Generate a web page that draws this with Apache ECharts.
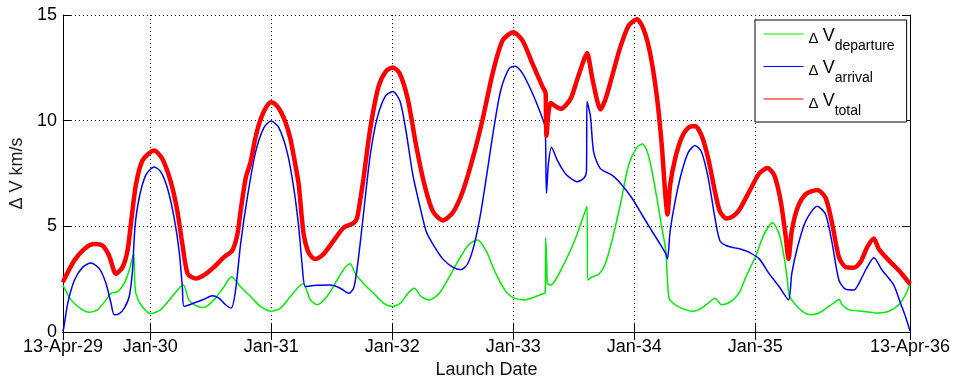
<!DOCTYPE html>
<html>
<head>
<meta charset="utf-8">
<script src="https://cdn.jsdelivr.net/npm/echarts@6/dist/echarts.min.js"></script>
<style>
  html, body { margin: 0; padding: 0; background: #fff; }
  #chart { width: 956px; height: 384px; }
</style>
</head>
<body>
<div id="chart"></div>
<script>
// Launch window: 13 Apr 2029 .. 13 Apr 2036, x expressed in decimal years
const tickYears  = [2029.279, 2030, 2031, 2032, 2033, 2034, 2035, 2036.279];
const tickLabels = ['13-Apr-29', 'Jan-30', 'Jan-31', 'Jan-32', 'Jan-33', 'Jan-34', 'Jan-35', '13-Apr-36'];

// Δv at departure (km/s)
const departureYears = [2029.279, 2029.286, 2029.346, 2029.429, 2029.498, 2029.566, 2029.635, 2029.676, 2029.731, 2029.786, 2029.827, 2029.863, 2029.872, 2029.882, 2029.923, 2030.005, 2030.088, 2030.17, 2030.239, 2030.275, 2030.321, 2030.39, 2030.445, 2030.527, 2030.61, 2030.672, 2030.747, 2030.83, 2030.912, 2031.0, 2031.077, 2031.159, 2031.228, 2031.264, 2031.324, 2031.379, 2031.461, 2031.544, 2031.612, 2031.653, 2031.695, 2031.763, 2031.846, 2031.928, 2032.005, 2032.07, 2032.13, 2032.184, 2032.239, 2032.308, 2032.39, 2032.472, 2032.555, 2032.637, 2032.706, 2032.775, 2032.857, 2032.94, 2033.008, 2033.091, 2033.173, 2033.242, 2033.264, 2033.269, 2033.277, 2033.283, 2033.31, 2033.365, 2033.42, 2033.478, 2033.528, 2033.61, 2033.616, 2033.651, 2033.706, 2033.761, 2033.816, 2033.885, 2033.953, 2034.022, 2034.069, 2034.118, 2034.173, 2034.228, 2034.261, 2034.275, 2034.289, 2034.338, 2034.42, 2034.489, 2034.557, 2034.612, 2034.667, 2034.722, 2034.777, 2034.832, 2034.876, 2034.923, 2035.0, 2035.074, 2035.143, 2035.198, 2035.239, 2035.266, 2035.28, 2035.321, 2035.39, 2035.459, 2035.527, 2035.61, 2035.664, 2035.692, 2035.719, 2035.774, 2035.884, 2036.021, 2036.104, 2036.186, 2036.241, 2036.279];
const departureDv    = [2.20, 2.14, 1.52, 1.09, 0.93, 1.06, 1.52, 1.83, 1.91, 2.30, 2.92, 3.70, 2.40, 1.83, 1.29, 0.87, 1.06, 1.60, 2.07, 2.22, 1.52, 1.21, 1.16, 1.52, 2.14, 2.62, 2.14, 1.68, 1.21, 0.98, 1.13, 1.68, 2.14, 2.30, 1.52, 1.29, 1.68, 2.45, 3.07, 3.23, 2.76, 2.30, 1.83, 1.37, 1.21, 1.37, 1.83, 2.07, 1.68, 1.52, 1.83, 2.61, 3.46, 4.16, 4.35, 3.85, 2.76, 1.91, 1.60, 1.52, 1.65, 1.80, 1.83, 4.47, 3.23, 2.30, 2.22, 2.61, 3.23, 3.93, 4.63, 5.95, 2.45, 2.61, 2.72, 3.23, 4.32, 6.02, 7.89, 8.74, 8.90, 8.35, 6.80, 4.94, 3.85, 2.45, 1.60, 1.29, 1.06, 0.98, 1.13, 1.37, 1.60, 1.29, 1.37, 1.60, 1.95, 2.61, 3.54, 4.63, 5.17, 4.63, 3.54, 2.45, 1.75, 1.37, 0.98, 0.82, 0.90, 1.21, 1.44, 1.55, 1.29, 1.06, 0.98, 0.90, 0.98, 1.29, 1.75, 2.30];

// Δv at arrival (km/s)
const arrivalYears = [2029.279, 2029.286, 2029.319, 2029.374, 2029.443, 2029.511, 2029.58, 2029.635, 2029.676, 2029.703, 2029.745, 2029.786, 2029.827, 2029.854, 2029.874, 2029.909, 2029.964, 2030.033, 2030.088, 2030.143, 2030.198, 2030.239, 2030.266, 2030.28, 2030.362, 2030.445, 2030.513, 2030.568, 2030.623, 2030.67, 2030.706, 2030.747, 2030.802, 2030.871, 2030.94, 2031.0, 2031.063, 2031.132, 2031.187, 2031.228, 2031.255, 2031.283, 2031.351, 2031.489, 2031.571, 2031.64, 2031.681, 2031.708, 2031.741, 2031.777, 2031.818, 2031.873, 2031.942, 2032.005, 2032.065, 2032.116, 2032.171, 2032.226, 2032.28, 2032.336, 2032.418, 2032.5, 2032.569, 2032.624, 2032.679, 2032.734, 2032.789, 2032.843, 2032.898, 2032.967, 2033.016, 2033.077, 2033.146, 2033.214, 2033.264, 2033.27, 2033.275, 2033.29, 2033.316, 2033.365, 2033.42, 2033.459, 2033.528, 2033.583, 2033.605, 2033.61, 2033.638, 2033.665, 2033.72, 2033.816, 2033.898, 2033.981, 2034.063, 2034.146, 2034.214, 2034.261, 2034.275, 2034.297, 2034.338, 2034.393, 2034.448, 2034.503, 2034.557, 2034.612, 2034.667, 2034.708, 2034.763, 2034.832, 2034.876, 2034.951, 2035.033, 2035.115, 2035.198, 2035.275, 2035.302, 2035.349, 2035.417, 2035.513, 2035.582, 2035.637, 2035.692, 2035.747, 2035.815, 2035.884, 2035.925, 2035.98, 2036.049, 2036.145, 2036.2, 2036.241, 2036.279];
const arrivalDv    = [0.05, 0.20, 1.37, 2.45, 3.07, 3.26, 3.00, 2.30, 1.37, 0.82, 0.87, 1.13, 1.68, 2.92, 4.94, 6.34, 7.42, 7.81, 7.58, 6.80, 5.40, 3.85, 2.14, 1.21, 1.37, 1.55, 1.71, 1.60, 1.29, 1.13, 1.99, 4.16, 6.34, 8.51, 9.67, 9.98, 9.67, 8.51, 6.80, 4.94, 3.23, 2.14, 2.20, 2.22, 2.07, 1.83, 2.07, 2.92, 4.47, 6.34, 8.35, 10.06, 11.15, 11.38, 10.92, 9.44, 7.42, 6.02, 4.78, 4.16, 3.46, 3.07, 2.95, 3.23, 4.16, 5.71, 7.73, 9.75, 11.46, 12.47, 12.58, 12.24, 11.46, 10.53, 9.67, 8.00, 6.57, 7.90, 8.74, 8.12, 7.58, 7.34, 7.11, 7.27, 7.58, 10.92, 10.22, 8.51, 7.73, 7.42, 6.96, 6.34, 5.56, 4.78, 4.16, 3.70, 3.46, 4.78, 6.18, 7.58, 8.51, 8.82, 8.51, 7.27, 5.40, 4.32, 4.08, 3.98, 3.93, 3.77, 3.46, 2.76, 2.14, 1.52, 2.76, 4.01, 5.25, 5.95, 5.56, 4.16, 2.45, 2.02, 1.99, 2.61, 3.07, 3.51, 2.92, 2.22, 1.37, 0.75, 0.05];

// Total Δv (km/s)
const totalYears = [2029.279, 2029.286, 2029.374, 2029.456, 2029.539, 2029.607, 2029.66, 2029.717, 2029.772, 2029.813, 2029.84, 2029.882, 2029.937, 2030.033, 2030.1, 2030.17, 2030.225, 2030.266, 2030.31, 2030.376, 2030.445, 2030.527, 2030.61, 2030.678, 2030.72, 2030.747, 2030.79, 2030.83, 2030.87, 2030.912, 2030.96, 2031.0, 2031.04, 2031.077, 2031.12, 2031.159, 2031.2, 2031.228, 2031.25, 2031.269, 2031.302, 2031.335, 2031.365, 2031.434, 2031.516, 2031.599, 2031.68, 2031.71, 2031.74, 2031.763, 2031.818, 2031.887, 2031.95, 2032.005, 2032.061, 2032.13, 2032.198, 2032.267, 2032.336, 2032.418, 2032.5, 2032.583, 2032.665, 2032.747, 2032.83, 2032.912, 2033.0, 2033.077, 2033.159, 2033.242, 2033.268, 2033.271, 2033.275, 2033.29, 2033.31, 2033.35, 2033.393, 2033.43, 2033.478, 2033.528, 2033.583, 2033.61, 2033.651, 2033.692, 2033.72, 2033.761, 2033.816, 2033.885, 2033.953, 2034.022, 2034.077, 2034.132, 2034.187, 2034.228, 2034.255, 2034.275, 2034.297, 2034.338, 2034.393, 2034.448, 2034.503, 2034.557, 2034.612, 2034.667, 2034.708, 2034.763, 2034.818, 2034.87, 2034.951, 2035.033, 2035.1, 2035.157, 2035.211, 2035.253, 2035.275, 2035.302, 2035.349, 2035.417, 2035.513, 2035.582, 2035.637, 2035.692, 2035.747, 2035.815, 2035.87, 2035.925, 2035.98, 2036.021, 2036.104, 2036.186, 2036.279];
const totalDv    = [2.35, 2.45, 3.39, 3.93, 4.16, 4.08, 3.62, 2.76, 3.07, 3.85, 5.09, 6.96, 8.12, 8.59, 8.20, 7.11, 5.71, 4.16, 2.76, 2.53, 2.69, 3.07, 3.54, 3.85, 4.60, 5.71, 7.30, 8.04, 9.20, 10.06, 10.65, 10.87, 10.75, 10.45, 9.90, 9.13, 7.90, 6.96, 5.60, 4.60, 3.85, 3.55, 3.46, 3.70, 4.32, 4.94, 5.15, 5.40, 6.40, 7.27, 9.60, 11.61, 12.35, 12.52, 12.24, 10.99, 8.82, 6.96, 5.71, 5.28, 5.64, 6.65, 8.20, 10.06, 12.24, 13.79, 14.18, 13.79, 12.70, 11.61, 11.30, 10.20, 9.29, 10.30, 10.84, 10.68, 10.56, 10.70, 11.07, 11.93, 12.86, 13.20, 12.08, 10.99, 10.53, 10.99, 12.08, 13.48, 14.49, 14.80, 14.33, 13.17, 11.15, 8.82, 6.65, 5.56, 6.96, 8.20, 9.21, 9.67, 9.75, 9.29, 8.20, 6.65, 5.71, 5.37, 5.48, 5.80, 6.65, 7.50, 7.76, 7.42, 6.18, 4.47, 3.46, 4.78, 5.87, 6.52, 6.72, 6.34, 5.09, 3.54, 3.07, 3.04, 3.31, 4.01, 4.43, 3.93, 3.39, 2.92, 2.27];

const legendSub = { departure: 'departure', arrival: 'arrival', total: 'total' };

const zip = (xs, ys) => xs.map((x, i) => [x, ys[i]]);
const FONT = '"Liberation Sans", Arial, Helvetica, sans-serif';

const tickLabel = v => {
  const i = tickYears.findIndex(t => Math.abs(t - v) < 1e-6);
  return i >= 0 ? tickLabels[i] : '';
};

const gridLine = { show: true, lineStyle: { color: '#000', type: [1, 3], width: 1 } };
const blackLine = { show: true, lineStyle: { color: '#000', width: 1 } };
const innerTick = { show: true, inside: true, length: 8, lineStyle: { color: '#000', width: 1 } };

const chart = echarts.init(document.getElementById('chart'), null, { renderer: 'canvas' });

chart.setOption({
  animation: false,
  backgroundColor: '#fff',
  textStyle: { fontFamily: FONT },
  grid: { left: 60, right: 46, top: 15, bottom: 47, containLabel: false },
  legend: {
    orient: 'vertical',
    left: 755,
    top: 20,
    padding: [3, 12, 4, 8],
    itemGap: 2.5,
    itemWidth: 40,
    itemHeight: 14,
    selectedMode: false,
    backgroundColor: '#fff',
    borderColor: '#000',
    borderWidth: 1,
    borderRadius: 0,
    lineStyle: { width: 1 },
    itemStyle: { opacity: 0 },
    data: ['departure', 'arrival', 'total'],
    formatter: n => '{d|Δ }{v|V}{s|' + legendSub[n] + '}',
    textStyle: {
      color: '#000',
      fontFamily: FONT,
      rich: {
        d: { fontSize: 15, lineHeight: 15, padding: [8, 0, 0, 0], verticalAlign: 'top', fontFamily: FONT, color: '#000' },
        v: { fontSize: 18, lineHeight: 22, padding: [4, 0, 0, 0], verticalAlign: 'top', fontFamily: FONT, color: '#000' },
        s: { fontSize: 14, lineHeight: 14, padding: [16, 0, 0, 0], verticalAlign: 'top', fontFamily: FONT, color: '#000' }
      }
    }
  },
  xAxis: [
    {
      type: 'value',
      min: tickYears[0],
      max: tickYears[tickYears.length - 1],
      name: 'Launch Date',
      nameLocation: 'middle',
      nameGap: 29,
      nameTextStyle: { fontSize: 18, color: '#111', fontFamily: FONT },
      axisLine: blackLine,
      axisTick: Object.assign({}, innerTick, { customValues: tickYears }),
      axisLabel: {
        customValues: tickYears,
        formatter: tickLabel,
        fontSize: 18,
        color: '#000',
        margin: 6,
        fontFamily: FONT
      },
      splitLine: gridLine
    },
    {
      type: 'value',
      position: 'top',
      min: tickYears[0],
      max: tickYears[tickYears.length - 1],
      axisLine: blackLine,
      axisTick: Object.assign({}, innerTick, { customValues: tickYears }),
      axisLabel: { show: false },
      splitLine: { show: false }
    }
  ],
  yAxis: [
    {
      type: 'value',
      min: 0,
      max: 15,
      interval: 5,
      name: 'Δ V km/s',
      nameLocation: 'middle',
      nameGap: 33,
      nameTextStyle: { fontSize: 18, color: '#222', fontFamily: FONT },
      axisLine: blackLine,
      axisTick: innerTick,
      axisLabel: { fontSize: 18, color: '#000', margin: 6, fontFamily: FONT },
      splitLine: gridLine
    },
    {
      type: 'value',
      position: 'right',
      min: 0,
      max: 15,
      interval: 5,
      axisLine: blackLine,
      axisTick: innerTick,
      axisLabel: { show: false },
      splitLine: { show: false }
    }
  ],
  series: [
    {
      name: 'departure',
      type: 'line',
      data: zip(departureYears, departureDv),
      symbol: 'none',
      smooth: 0.25,
      color: '#00ee00',
      lineStyle: { color: '#00ee00', width: 1.5 },
      z: 2
    },
    {
      name: 'arrival',
      type: 'line',
      data: zip(arrivalYears, arrivalDv),
      symbol: 'none',
      smooth: 0.25,
      color: '#0000ff',
      lineStyle: { color: '#0000ff', width: 1.5 },
      z: 3
    },
    {
      name: 'total',
      type: 'line',
      data: zip(totalYears, totalDv),
      symbol: 'none',
      smooth: 0.25,
      color: '#ff0000',
      lineStyle: { color: '#ff0000', width: 4.5 },
      z: 4
    }
  ]
});
</script>
</body>
</html>
